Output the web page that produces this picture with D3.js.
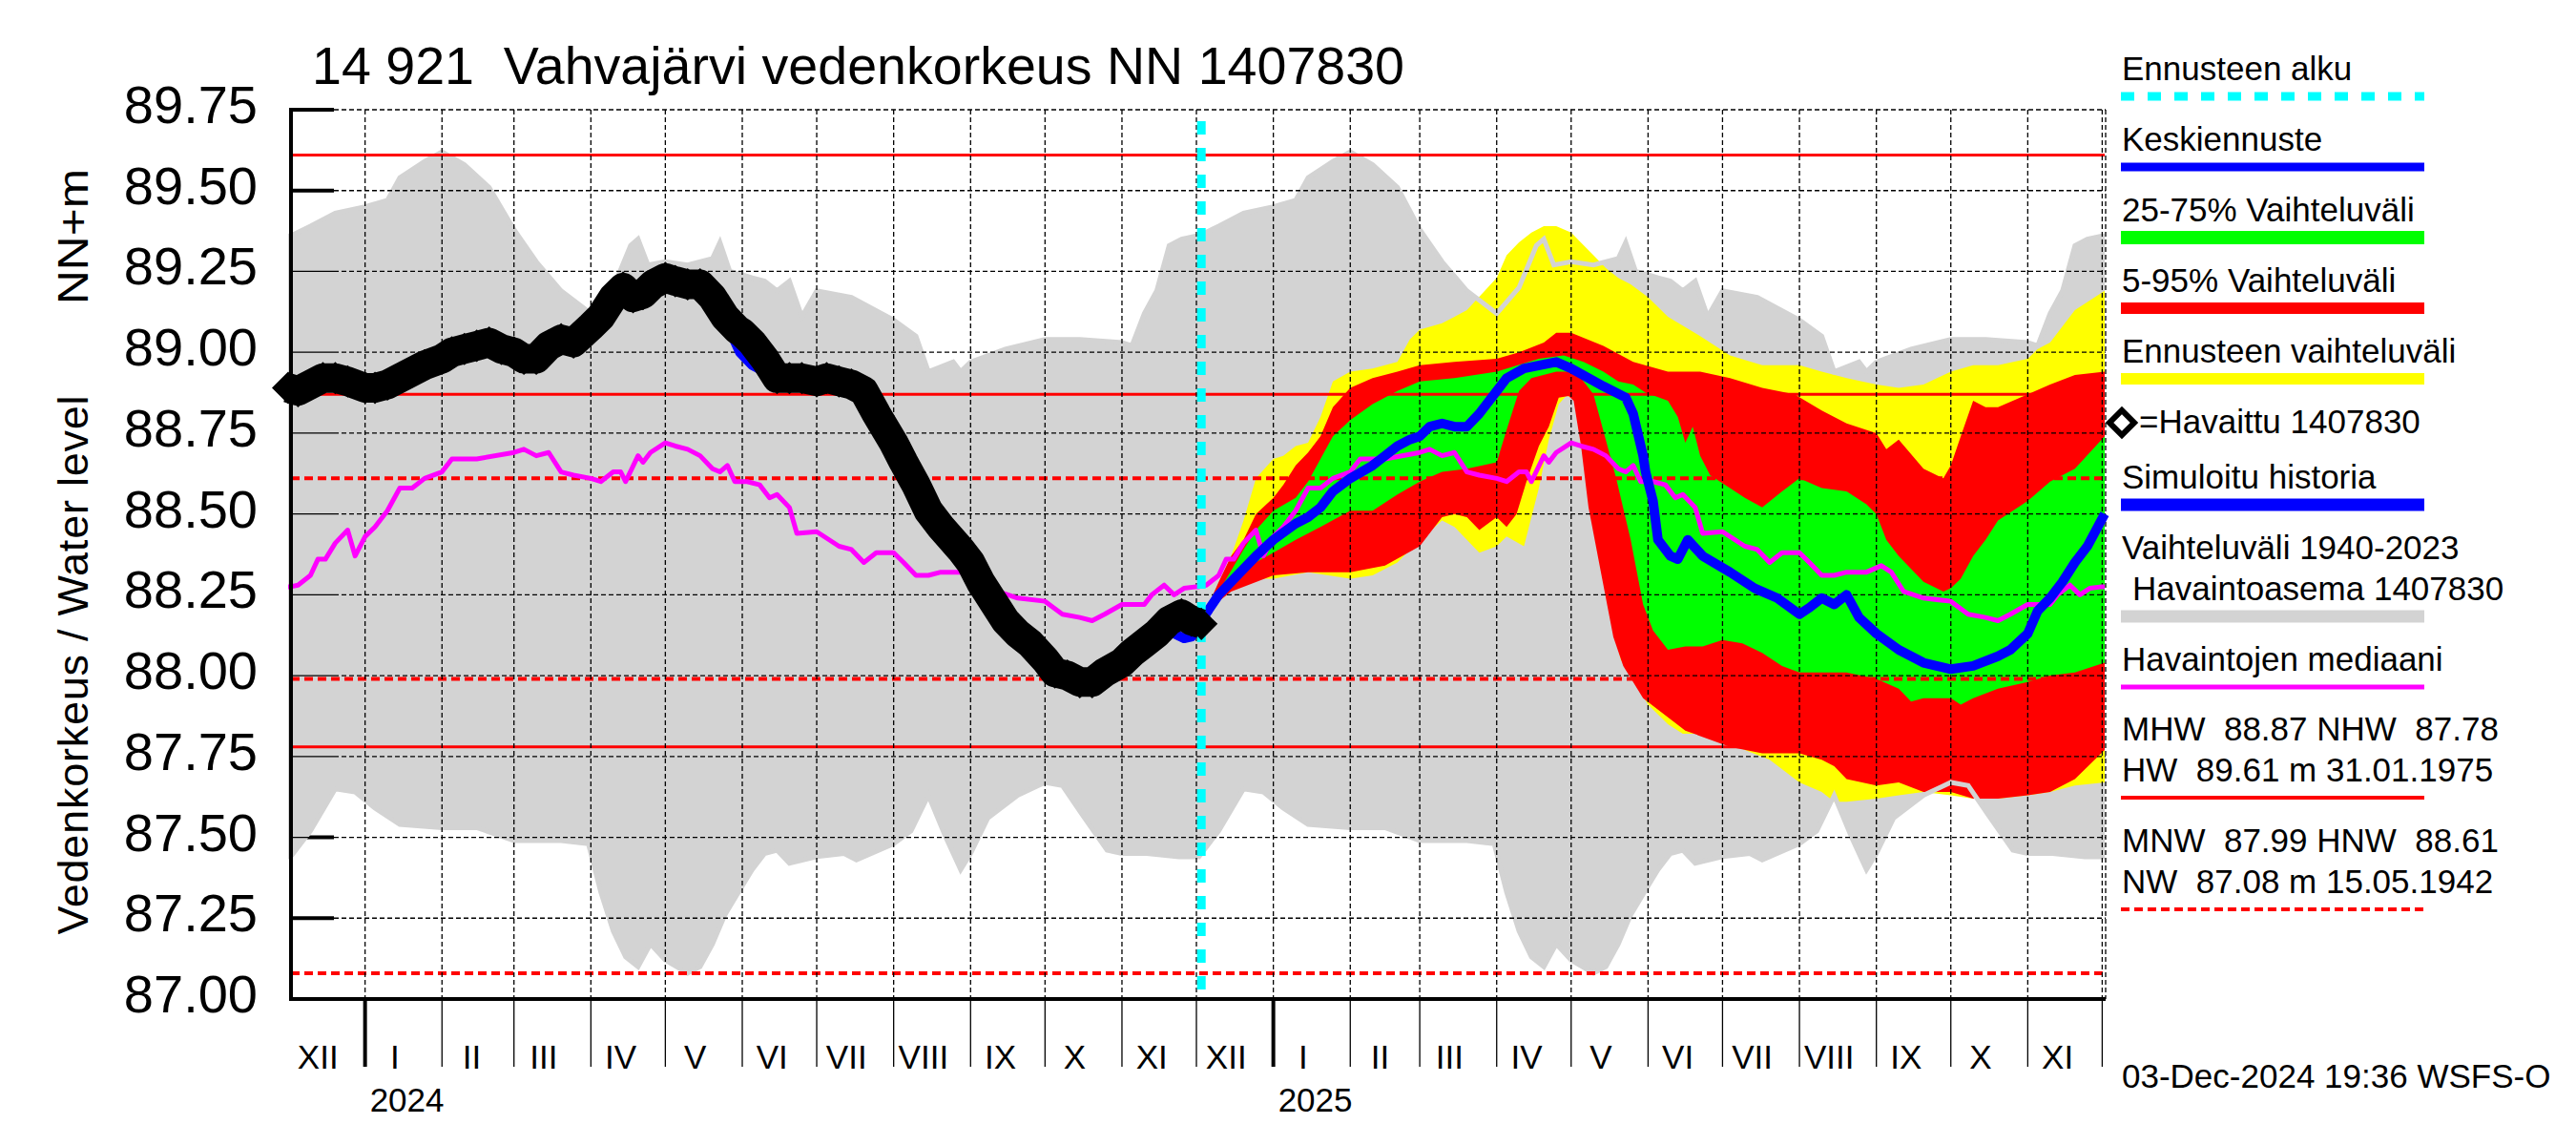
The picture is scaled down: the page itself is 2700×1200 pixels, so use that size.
<!DOCTYPE html>
<html><head><meta charset="utf-8">
<script src="https://cdn.jsdelivr.net/npm/d3@7"></script>
<style>
body{margin:0;background:#fff}
text{font-family:"Liberation Sans",Arial,Helvetica,sans-serif;fill:#000;white-space:pre}
</style>
</head><body>
<svg id="c" width="2700" height="1200" xmlns="http://www.w3.org/2000/svg"></svg>
<script>
// ---------------- DATA ----------------
const titleText = "14 921  Vahvajärvi vedenkorkeus NN 1407830";
const yTickValues = [87.00, 87.25, 87.50, 87.75, 88.00, 88.25, 88.50, 88.75, 89.00, 89.25, 89.50, 89.75];
const monthNames = ["I","II","III","IV","V","VI","VII","VIII","IX","X","XI","XII"];
const yearLabels = ["2024","2025"];
const forecastStart = "2024-12-03";

// reference levels
const refSolid = [89.61, 88.87, 87.78];   // HW, MHW, NHW
const refDashed = [88.61, 87.99, 87.08];  // HNW, MNW, NW

// climatology 1940-2023 (MM-DD, value) – repeats each year
const grayUpper = [["12-01",89.36],["12-02",89.36],["12-10",89.39],["12-20",89.43],["01-01",89.45],["01-10",89.47],["01-15",89.54],["01-25",89.59],["02-01",89.62],["02-10",89.58],["02-20",89.51],["03-01",89.38],["03-10",89.28],["03-20",89.19],["04-01",89.12],["04-10",89.20],["04-17",89.33],["04-20",89.35],["04-24",89.27],["05-01",89.28],["05-10",89.27],["05-20",89.29],["05-23",89.34],["05-27",89.25],["06-01",89.24],["06-05",89.23],["06-10",89.22],["06-15",89.19],["06-20",89.22],["06-25",89.11],["07-01",89.19],["07-15",89.17],["08-01",89.10],["08-10",89.05],["08-15",88.94],["08-25",88.97],["08-28",88.94],["09-01",88.97],["09-15",89.01],["10-01",89.04],["10-15",89.04],["11-01",89.03],["11-05",89.02],["11-10",89.12],["11-15",89.19],["11-20",89.33],["11-25",89.35]];
const grayLower = [["12-01",87.44],["12-02",87.44],["12-10",87.52],["12-20",87.65],["12-28",87.64],["01-05",87.59],["01-15",87.54],["02-01",87.53],["02-15",87.53],["03-01",87.49],["03-20",87.49],["03-31",87.48],["04-05",87.33],["04-10",87.21],["04-15",87.13],["04-20",87.10],["04-25",87.17],["05-01",87.12],["05-10",87.08],["05-15",87.10],["05-20",87.17],["05-25",87.26],["06-01",87.35],["06-05",87.40],["06-10",87.45],["06-15",87.46],["06-20",87.42],["07-01",87.44],["07-12",87.45],["07-17",87.43],["08-01",87.48],["08-08",87.52],["08-15",87.63],["08-22",87.50],["08-28",87.40],["09-01",87.45],["09-08",87.56],["09-20",87.63],["10-01",87.67],["10-08",87.66],["10-16",87.57],["10-26",87.46],["11-01",87.45],["11-11",87.45],["11-24",87.44]];
const medianClim = [["12-01",88.275],["12-02",88.275],["12-05",88.28],["12-10",88.31],["12-13",88.36],["12-16",88.36],["12-20",88.41],["12-25",88.45],["12-28",88.37],["01-01",88.43],["01-05",88.46],["01-10",88.51],["01-15",88.58],["01-20",88.58],["01-25",88.61],["02-01",88.63],["02-05",88.67],["02-15",88.67],["03-01",88.69],["03-05",88.70],["03-10",88.68],["03-15",88.69],["03-20",88.63],["03-25",88.62],["04-01",88.61],["04-05",88.60],["04-10",88.63],["04-13",88.63],["04-15",88.60],["04-20",88.68],["04-22",88.66],["04-25",88.69],["05-01",88.72],["05-05",88.71],["05-10",88.70],["05-15",88.68],["05-20",88.64],["05-23",88.63],["05-26",88.65],["05-29",88.60],["06-03",88.60],["06-08",88.59],["06-12",88.55],["06-15",88.56],["06-20",88.52],["06-23",88.44],["07-01",88.445],["07-10",88.40],["07-15",88.39],["07-20",88.35],["07-25",88.38],["08-01",88.38],["08-05",88.35],["08-10",88.31],["08-15",88.31],["08-20",88.32],["08-28",88.32],["09-03",88.34],["09-07",88.32],["09-12",88.26],["09-20",88.24],["10-01",88.23],["10-08",88.19],["10-15",88.18],["10-20",88.17],["10-25",88.19],["11-01",88.22],["11-10",88.22],["11-13",88.25],["11-18",88.28],["11-22",88.25],["11-26",88.27]];

// observed water level
const observed = [["2023-12-01",88.89],["2023-12-05",88.88],["2023-12-10",88.90],["2023-12-15",88.92],["2023-12-20",88.92],["2023-12-25",88.91],["2024-01-01",88.89],["2024-01-05",88.89],["2024-01-10",88.90],["2024-01-15",88.92],["2024-01-20",88.94],["2024-01-25",88.96],["2024-02-01",88.98],["2024-02-05",89.00],["2024-02-10",89.01],["2024-02-15",89.02],["2024-02-20",89.03],["2024-02-25",89.01],["2024-03-01",89.00],["2024-03-05",88.98],["2024-03-10",88.98],["2024-03-15",89.02],["2024-03-20",89.04],["2024-03-25",89.03],["2024-04-01",89.08],["2024-04-05",89.11],["2024-04-10",89.17],["2024-04-14",89.20],["2024-04-18",89.17],["2024-04-22",89.18],["2024-04-26",89.21],["2024-05-01",89.23],["2024-05-05",89.22],["2024-05-10",89.21],["2024-05-15",89.21],["2024-05-20",89.17],["2024-05-25",89.11],["2024-05-30",89.07],["2024-06-01",89.06],["2024-06-05",89.03],["2024-06-10",88.98],["2024-06-15",88.92],["2024-06-20",88.92],["2024-06-25",88.92],["2024-07-01",88.91],["2024-07-05",88.92],["2024-07-10",88.91],["2024-07-15",88.90],["2024-07-20",88.88],["2024-07-25",88.81],["2024-08-01",88.72],["2024-08-05",88.66],["2024-08-10",88.59],["2024-08-15",88.51],["2024-08-20",88.46],["2024-08-28",88.39],["2024-09-01",88.35],["2024-09-05",88.29],["2024-09-10",88.23],["2024-09-15",88.17],["2024-09-20",88.13],["2024-09-25",88.10],["2024-10-01",88.05],["2024-10-05",88.01],["2024-10-10",88.00],["2024-10-15",87.98],["2024-10-20",87.98],["2024-10-25",88.01],["2024-11-01",88.04],["2024-11-05",88.07],["2024-11-10",88.10],["2024-11-15",88.13],["2024-11-20",88.17],["2024-11-25",88.19],["2024-11-29",88.17],["2024-12-03",88.16]];

// simulated history (visible parts)
const simulated = [["2024-05-25",89.10],["2024-05-31",89.00],["2024-06-05",88.96],["2024-06-10",88.94],["2024-06-15",88.91],null,["2024-11-18",88.14],["2024-11-22",88.13],["2024-11-26",88.115],["2024-11-29",88.12],["2024-12-03",88.16]];

// forecast
const yellowUpper = [["2024-12-03",88.17],["2024-12-10",88.275],["2024-12-15",88.37],["2024-12-20",88.48],["2024-12-25",88.61],["2025-01-01",88.67],["2025-01-05",88.68],["2025-01-10",88.71],["2025-01-15",88.72],["2025-01-20",88.80],["2025-01-25",88.91],["2025-02-01",88.94],["2025-02-10",88.95],["2025-02-20",88.97],["2025-02-25",89.04],["2025-03-01",89.07],["2025-03-10",89.09],["2025-03-20",89.13],["2025-04-01",89.23],["2025-04-05",89.30],["2025-04-10",89.34],["2025-04-15",89.37],["2025-04-20",89.39],["2025-04-25",89.39],["2025-05-01",89.37],["2025-05-10",89.30],["2025-05-15",89.26],["2025-05-20",89.23],["2025-05-25",89.21],["2025-06-01",89.17],["2025-06-09",89.11],["2025-06-22",89.05],["2025-07-04",88.99],["2025-07-17",88.96],["2025-08-01",88.96],["2025-08-10",88.94],["2025-08-20",88.92],["2025-09-01",88.90],["2025-09-10",88.89],["2025-09-20",88.90],["2025-10-01",88.94],["2025-10-10",88.96],["2025-10-20",88.96],["2025-11-01",88.98],["2025-11-05",89.01],["2025-11-10",89.03],["2025-11-15",89.08],["2025-11-20",89.13],["2025-12-02",89.19]];
const yellowLower = [["2024-12-03",88.17],["2024-12-10",88.26],["2024-12-20",88.30],["2025-01-01",88.30],["2025-01-15",88.32],["2025-02-01",88.30],["2025-02-10",88.31],["2025-02-20",88.35],["2025-03-01",88.42],["2025-03-10",88.48],["2025-03-15",88.46],["2025-03-20",88.42],["2025-03-25",88.38],["2025-04-01",88.40],["2025-04-05",88.43],["2025-04-12",88.40],["2025-04-18",88.58],["2025-04-22",88.73],["2025-04-26",88.84],["2025-04-29",88.865],["2025-05-02",88.86],["2025-05-05",88.77],["2025-05-08",88.61],["2025-05-12",88.42],["2025-05-16",88.22],["2025-05-21",88.05],["2025-05-26",87.99],["2025-06-01",87.91],["2025-06-09",87.85],["2025-06-15",87.82],["2025-06-20",87.82],["2025-07-01",87.80],["2025-07-10",87.77],["2025-07-20",87.74],["2025-08-01",87.67],["2025-08-10",87.64],["2025-08-15",87.61],["2025-08-20",87.61],["2025-09-01",87.62],["2025-09-10",87.63],["2025-09-20",87.64],["2025-10-01",87.63],["2025-10-10",87.62],["2025-10-20",87.62],["2025-11-01",87.63],["2025-11-10",87.64],["2025-11-20",87.66],["2025-12-02",87.67]];
const redUpper = [["2024-12-03",88.17],["2024-12-10",88.29],["2024-12-15",88.37],["2024-12-20",88.42],["2024-12-25",88.50],["2025-01-01",88.55],["2025-01-05",88.59],["2025-01-10",88.65],["2025-01-15",88.69],["2025-01-20",88.74],["2025-01-25",88.83],["2025-02-01",88.89],["2025-02-10",88.92],["2025-02-20",88.94],["2025-03-01",88.96],["2025-03-15",88.97],["2025-04-01",88.98],["2025-04-10",89.00],["2025-04-20",89.03],["2025-04-25",89.06],["2025-05-01",89.06],["2025-05-14",89.02],["2025-05-26",88.97],["2025-06-09",88.94],["2025-06-22",88.94],["2025-07-04",88.92],["2025-07-17",88.89],["2025-07-30",88.87],["2025-08-10",88.82],["2025-08-20",88.78],["2025-09-01",88.75],["2025-09-05",88.70],["2025-09-10",88.73],["2025-09-20",88.64],["2025-09-28",88.61],["2025-10-01",88.65],["2025-10-05",88.74],["2025-10-10",88.85],["2025-10-15",88.83],["2025-10-20",88.83],["2025-11-01",88.87],["2025-11-10",88.90],["2025-11-20",88.93],["2025-12-02",88.94]];
const redLower = [["2024-12-03",88.17],["2024-12-10",88.23],["2024-12-15",88.26],["2025-01-01",88.31],["2025-01-15",88.32],["2025-02-01",88.32],["2025-02-15",88.34],["2025-03-01",88.40],["2025-03-10",88.49],["2025-03-15",88.50],["2025-03-20",88.49],["2025-03-25",88.45],["2025-04-01",88.49],["2025-04-05",88.46],["2025-04-09",88.50],["2025-04-13",88.60],["2025-04-18",88.71],["2025-04-22",88.77],["2025-04-26",88.86],["2025-04-30",88.865],["2025-05-02",88.85],["2025-05-05",88.71],["2025-05-08",88.52],["2025-05-13",88.32],["2025-05-18",88.12],["2025-05-22",88.03],["2025-05-30",87.93],["2025-06-16",87.83],["2025-07-04",87.78],["2025-07-17",87.76],["2025-08-01",87.76],["2025-08-10",87.74],["2025-08-15",87.72],["2025-08-20",87.68],["2025-09-01",87.66],["2025-09-10",87.67],["2025-09-20",87.64],["2025-10-01",87.64],["2025-10-10",87.62],["2025-10-20",87.62],["2025-11-01",87.63],["2025-11-10",87.64],["2025-11-20",87.68],["2025-12-02",87.77]];
const greenUpper = [["2024-12-03",88.17],["2024-12-10",88.26],["2024-12-20",88.39],["2024-12-25",88.45],["2025-01-01",88.51],["2025-01-10",88.55],["2025-01-15",88.60],["2025-01-20",88.67],["2025-01-25",88.74],["2025-02-01",88.79],["2025-02-10",88.84],["2025-02-20",88.88],["2025-03-01",88.91],["2025-03-15",88.92],["2025-04-01",88.94],["2025-04-18",88.98],["2025-04-28",88.99],["2025-05-06",88.97],["2025-05-14",88.94],["2025-05-20",88.91],["2025-05-26",88.90],["2025-05-31",88.875],["2025-06-09",88.85],["2025-06-13",88.80],["2025-06-16",88.72],["2025-06-19",88.77],["2025-06-22",88.68],["2025-06-26",88.62],["2025-07-04",88.58],["2025-07-10",88.55],["2025-07-17",88.52],["2025-07-25",88.57],["2025-08-01",88.61],["2025-08-10",88.58],["2025-08-20",88.57],["2025-08-28",88.53],["2025-09-01",88.50],["2025-09-05",88.42],["2025-09-10",88.37],["2025-09-20",88.29],["2025-09-28",88.26],["2025-10-01",88.27],["2025-10-05",88.30],["2025-10-10",88.37],["2025-10-15",88.42],["2025-10-20",88.48],["2025-11-01",88.54],["2025-11-10",88.60],["2025-11-20",88.64],["2025-12-02",88.74]];
const greenLower = [["2024-12-03",88.17],["2024-12-10",88.24],["2024-12-20",88.33],["2025-01-01",88.38],["2025-01-10",88.42],["2025-01-20",88.46],["2025-02-01",88.51],["2025-02-10",88.51],["2025-02-20",88.56],["2025-03-01",88.60],["2025-03-10",88.63],["2025-03-20",88.64],["2025-04-01",88.66],["2025-04-05",88.76],["2025-04-10",88.88],["2025-04-15",88.92],["2025-04-25",88.94],["2025-05-01",88.94],["2025-05-05",88.92],["2025-05-10",88.87],["2025-05-19",88.615],["2025-05-25",88.42],["2025-05-30",88.22],["2025-06-03",88.14],["2025-06-09",88.08],["2025-06-16",88.09],["2025-06-23",88.09],["2025-07-01",88.11],["2025-07-09",88.10],["2025-07-17",88.07],["2025-07-25",88.03],["2025-08-01",88.01],["2025-08-10",88.01],["2025-08-20",88.01],["2025-09-01",87.99],["2025-09-10",87.96],["2025-09-15",87.92],["2025-09-20",87.93],["2025-10-01",87.93],["2025-10-05",87.91],["2025-10-10",87.93],["2025-10-20",87.96],["2025-11-01",87.98],["2025-11-10",88.00],["2025-11-20",88.01],["2025-12-02",88.04]];
const meanForecast = [["2024-12-03",88.17],["2024-12-10",88.25],["2024-12-15",88.29],["2024-12-20",88.33],["2024-12-25",88.37],["2025-01-01",88.42],["2025-01-10",88.47],["2025-01-15",88.49],["2025-01-20",88.52],["2025-01-25",88.57],["2025-02-01",88.61],["2025-02-10",88.65],["2025-02-15",88.68],["2025-02-20",88.71],["2025-02-25",88.73],["2025-03-01",88.74],["2025-03-05",88.77],["2025-03-10",88.78],["2025-03-15",88.77],["2025-03-20",88.77],["2025-03-25",88.81],["2025-04-01",88.88],["2025-04-05",88.92],["2025-04-12",88.95],["2025-04-25",88.97],["2025-05-01",88.95],["2025-05-14",88.895],["2025-05-23",88.86],["2025-05-26",88.81],["2025-05-30",88.68],["2025-05-31",88.63],["2025-06-03",88.54],["2025-06-05",88.42],["2025-06-10",88.37],["2025-06-13",88.36],["2025-06-17",88.42],["2025-06-23",88.37],["2025-07-04",88.32],["2025-07-14",88.27],["2025-07-23",88.24],["2025-08-01",88.19],["2025-08-05",88.21],["2025-08-10",88.24],["2025-08-15",88.22],["2025-08-20",88.25],["2025-08-25",88.18],["2025-09-01",88.13],["2025-09-10",88.08],["2025-09-20",88.04],["2025-10-01",88.02],["2025-10-10",88.03],["2025-10-20",88.06],["2025-10-25",88.08],["2025-11-01",88.13],["2025-11-05",88.20],["2025-11-10",88.24],["2025-11-15",88.29],["2025-11-20",88.35],["2025-11-25",88.40],["2025-12-02",88.50]];

// legend
const legendItems = [
  {label:"Ennusteen alku", kind:"cyan"},
  {label:"Keskiennuste", kind:"blue"},
  {label:"25-75% Vaihteluväli", kind:"green"},
  {label:"5-95% Vaihteluväli", kind:"red"},
  {label:"Ennusteen vaihteluväli", kind:"yellow"},
  {label:"=Havaittu 1407830", kind:"diamond"},
  {label:"Simuloitu historia", kind:"sim"},
  {label:"Vaihteluväli 1940-2023", kind:"none"},
  {label:"Havaintoasema 1407830", kind:"gray"},
  {label:"Havaintojen mediaani", kind:"magenta"},
  {label:"MHW  88.87 NHW  87.78", kind:"none"},
  {label:"HW  89.61 m 31.01.1975", kind:"redline"},
  {label:"MNW  87.99 HNW  88.61", kind:"none"},
  {label:"NW  87.08 m 15.05.1942", kind:"reddash"}
];
const stampText = "03-Dec-2024 19:36 WSFS-O";

// ---------------- DRAW ----------------
const parse = d3.utcParse("%Y-%m-%d");
const svg = d3.select("#c");
const L = 302, R = 2206, T = 115, B = 1047;
const start = parse("2023-12-01"), end = parse("2025-12-02");
const x = d3.scaleUtc().domain([start, end]).range([L, R]);
const y = d3.scaleLinear().domain([87.0, 89.75]).range([B, T]);

const C = {gray:"#d3d3d3", yellow:"#ffff00", red:"#ff0000", green:"#00ff00", blue:"#0000ff", magenta:"#ff00ff", cyan:"#00ffff"};

function expandClim(arr){
  const out=[];
  for (const Y of [2024,2025,2026]) for (const [md,v] of arr){
    const m=+md.slice(0,2); const yr = m===12 ? Y-1 : Y;
    const d=parse(`${yr}-${md}`);
    if (d>=start && d<=end) out.push([d,v]);
  }
  return out.sort((a,b)=>a[0]-b[0]);
}
const toPts = arr => arr.map(d => d ? [parse(d[0]), d[1]] : null);
const line = d3.line().defined(d=>d).x(d=>x(d[0])).y(d=>y(d[1]));
const band = (up, lo) => line(up.concat(lo.slice().reverse())) + "Z";

svg.append("rect").attr("width",2700).attr("height",1200).attr("fill","#fff");

// thick inner y ticks (beneath gray)
svg.append("g").selectAll("line").data(yTickValues).join("line")
  .attr("x1",305).attr("x2",350).attr("y1",d=>y(d)).attr("y2",d=>y(d))
  .attr("stroke","#000").attr("stroke-width",4);

// gray climatology band
const gU = expandClim(grayUpper), gL = expandClim(grayLower);
svg.append("path").attr("d", band(gU, gL)).attr("fill", C.gray);

// forecast bands
svg.append("path").attr("d", band(toPts(yellowUpper), toPts(yellowLower))).attr("fill", C.yellow);
svg.append("path").attr("d", band(toPts(redUpper), toPts(redLower))).attr("fill", C.red);
svg.append("path").attr("d", band(toPts(greenUpper), toPts(greenLower))).attr("fill", C.green);

// gray envelope outlines over forecast
[gU, gL].forEach(a => svg.append("path").attr("d", line(a)).attr("fill","none").attr("stroke",C.gray).attr("stroke-width",5));

// reference lines
svg.append("g").selectAll("line").data(refSolid).join("line")
  .attr("x1",305).attr("x2",R).attr("y1",d=>y(d)).attr("y2",d=>y(d))
  .attr("stroke",C.red).attr("stroke-width",3);
svg.append("g").selectAll("line").data(refDashed).join("line")
  .attr("x1",305).attr("x2",R).attr("y1",d=>y(d)).attr("y2",d=>y(d))
  .attr("stroke",C.red).attr("stroke-width",4).attr("stroke-dasharray","9,5");

// gridlines
const gridY = yTickValues.filter(v => v > 87.0);
const gg = svg.append("g").attr("stroke","#000").attr("stroke-width",1.3);
gg.selectAll(".hs").data(gridY).join("line").attr("x1",305).attr("x2",350).attr("y1",d=>y(d)).attr("y2",d=>y(d));
gg.selectAll(".hd").data(gridY).join("line").attr("x1",350).attr("x2",R+1).attr("y1",d=>y(d)).attr("y2",d=>y(d)).attr("stroke-dasharray","5,3");
const monthStarts = d3.utcMonth.range(parse("2024-01-01"), parse("2025-12-02"));
gg.selectAll(".vd").data(monthStarts).join("line").attr("x1",d=>x(d)).attr("x2",d=>x(d)).attr("y1",T).attr("y2",B).attr("stroke-dasharray","5,3");
gg.append("line").attr("x1",R+1).attr("x2",R+1).attr("y1",T).attr("y2",B).attr("stroke-dasharray","5,3");

// median
svg.append("path").attr("d", line(expandClim(medianClim))).attr("fill","none").attr("stroke",C.magenta).attr("stroke-width",5).attr("stroke-linejoin","round");

// simulated history + mean forecast
svg.append("path").attr("d", line(toPts(simulated))).attr("fill","none").attr("stroke",C.blue).attr("stroke-width",10).attr("stroke-linejoin","round");
svg.append("path").attr("d", line(toPts(meanForecast))).attr("fill","none").attr("stroke",C.blue).attr("stroke-width",10).attr("stroke-linejoin","round");

// forecast start
const xf = x(parse(forecastStart));
svg.append("line").attr("x1",xf).attr("x2",xf).attr("y1",127).attr("y2",B).attr("stroke",C.cyan).attr("stroke-width",9).attr("stroke-dasharray","14,14");

// observed
const obs = toPts(observed);
svg.append("path").attr("d", line(obs)).attr("fill","none").attr("stroke","#000").attr("stroke-width",31).attr("stroke-linejoin","round");
const diamond = d3.symbol().type(d3.symbolSquare).size(580);
svg.append("g").selectAll("path").data(obs).join("path")
  .attr("d", diamond()).attr("transform", d=>`translate(${x(d[0])},${y(d[1])}) rotate(45)`).attr("fill","#000");

// axes
svg.append("line").attr("x1",305).attr("x2",305).attr("y1",T-2).attr("y2",B+2).attr("stroke","#000").attr("stroke-width",4);
svg.append("line").attr("x1",303).attr("x2",R+1).attr("y1",B).attr("y2",B).attr("stroke","#000").attr("stroke-width",4);
const tickDates = d3.utcMonth.range(parse("2024-01-01"), parse("2025-12-02"));
svg.append("g").selectAll("line").data(tickDates).join("line")
  .attr("x1",d=>x(d)).attr("x2",d=>x(d)).attr("y1",B).attr("y2",1118)
  .attr("stroke","#000").attr("stroke-width",d=>d.getUTCMonth()===0?4:1.3);

// month labels
const labelMonths = d3.utcMonth.range(start, parse("2025-12-01"));
svg.append("g").selectAll("text").data(labelMonths).join("text")
  .attr("x", d=>x(d3.utcDay.offset(d,12))).attr("y",1120).attr("text-anchor","middle")
  .attr("font-size",35).text(d=>monthNames[d.getUTCMonth()]);
svg.append("g").selectAll("text").data(yearLabels).join("text")
  .attr("x", d=>x(parse(d+"-01-01"))+5).attr("y",1165).attr("font-size",35).text(d=>d);

// y tick labels
svg.append("g").selectAll("text").data(yTickValues).join("text")
  .attr("x",270).attr("y",d=>y(d)+14).attr("text-anchor","end").attr("font-size",56)
  .text(d=>d.toFixed(2));

// y title
svg.append("text").attr("transform","translate(92,697) rotate(-90)").attr("text-anchor","middle")
  .attr("font-size",45).attr("textLength",565).attr("lengthAdjust","spacing").text("Vedenkorkeus / Water level");
svg.append("text").attr("transform","translate(92,248) rotate(-90)").attr("text-anchor","middle")
  .attr("font-size",45).attr("textLength",142).attr("lengthAdjust","spacingAndGlyphs").text("NN+m");

// title
svg.append("text").attr("x",327).attr("y",88).attr("font-size",56).attr("textLength",1145).attr("lengthAdjust","spacingAndGlyphs").text(titleText);

// legend
const LX = 2224, LX1 = 2223, LX2 = 2541;
const legendY = [84,158,232,306,380,454,512,586,629,703,776,819,893,936];
const lg = svg.append("g");
legendItems.forEach((it,i)=>{
  const by = legendY[i];
  const tx = it.kind==="diamond" ? 2242 : (it.kind==="gray" ? 2235 : LX);
  lg.append("text").attr("x",tx).attr("y",by).attr("font-size",35).text(it.label);
  const ly = by + 17;
  const seg = (col,w,dash) => { const l = lg.append("line").attr("x1",LX1).attr("x2",LX2).attr("y1",ly).attr("y2",ly).attr("stroke",col).attr("stroke-width",w); if(dash) l.attr("stroke-dasharray",dash); };
  if (it.kind==="cyan") seg(C.cyan,9,"14,14");
  if (it.kind==="blue") seg(C.blue,9);
  if (it.kind==="green") seg(C.green,14);
  if (it.kind==="red") seg(C.red,12);
  if (it.kind==="yellow") seg(C.yellow,12);
  if (it.kind==="sim") seg(C.blue,13);
  if (it.kind==="gray") seg(C.gray,13);
  if (it.kind==="magenta") seg(C.magenta,5);
  if (it.kind==="redline") seg(C.red,4);
  if (it.kind==="reddash") seg(C.red,4,"9,5");
  if (it.kind==="diamond") lg.append("path").attr("d", d3.symbol().type(d3.symbolSquare).size(338)())
      .attr("transform",`translate(2224,${by-11}) rotate(45)`).attr("fill","#fff").attr("stroke","#000").attr("stroke-width",6);
});
svg.append("text").attr("x",LX).attr("y",1140).attr("font-size",35).text(stampText);
</script>
</body></html>
